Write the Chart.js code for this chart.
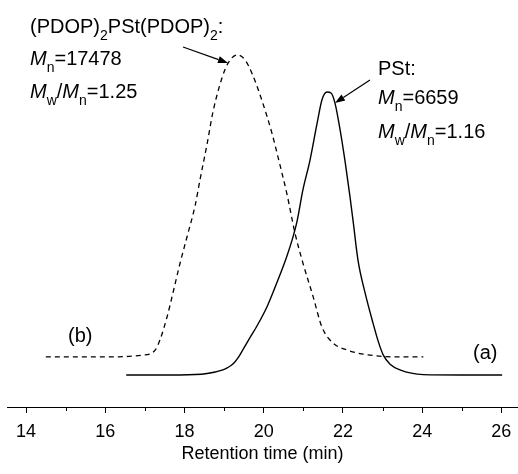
<!DOCTYPE html>
<html>
<head>
<meta charset="utf-8">
<script src="https://cdn.jsdelivr.net/npm/chart.js@4.4.0/dist/chart.umd.min.js"></script>
<style>
  html, body { margin: 0; padding: 0; background: #fff; }
  #wrap { width: 518px; height: 474px; }
</style>
</head>
<body>
<div id="wrap"><canvas id="gpc"></canvas></div>
<script>
// curve (b): (PDOP)2PSt(PDOP)2, dashed
const timeB = [14.5, 15.87, 16.95, 17.26, 17.38, 17.56, 17.71, 17.89, 18.07, 18.27, 18.39, 18.57, 18.72, 18.95, 19.1, 19.33, 19.53, 19.73, 19.96, 20.21, 20.36, 20.59, 20.79, 20.99, 21.25, 21.47, 21.75, 22.11, 22.69, 23.44, 24.03];
const signalB = [13.9, 13.9, 14.4, 15.8, 18.6, 25.0, 31.7, 40.0, 47.5, 56.0, 63.0, 73.0, 82.0, 91.5, 95.5, 97.8, 96.4, 92.0, 85.0, 76.0, 69.5, 59.0, 48.3, 40.0, 30.6, 22.2, 17.8, 15.8, 14.4, 13.9, 13.9];

// curve (a): PSt, solid
const timeA = [16.53, 17.89, 18.57, 18.97, 19.1, 19.23, 19.36, 19.48, 19.65, 19.83, 20.09, 20.36, 20.57, 20.72, 20.84, 20.99, 21.17, 21.35, 21.47, 21.6, 21.7, 21.8, 21.93, 22.06, 22.18, 22.26, 22.38, 22.56, 22.76, 22.89, 23.02, 23.19, 23.44, 24.03, 24.96, 26.02];
const signalA = [8.9, 8.9, 9.3, 10.3, 11.0, 12.0, 13.8, 16.0, 19.2, 22.5, 28.0, 35.3, 41.4, 46.5, 51.5, 60.3, 68.6, 78.9, 85.3, 87.5, 87.2, 84.4, 76.9, 67.8, 58.3, 51.4, 40.8, 31.7, 23.3, 18.3, 14.4, 11.9, 10.3, 9.0, 8.9, 8.9];

const xTicks = [14, 16, 18, 20, 22, 24, 26];
const xMinor = [15, 17, 19, 21, 23, 25];

const FONT = "'Liberation Sans', Arial, sans-serif";

// text with italic / subscript pieces
function drawRich(ctx, x, y, parts) {
  parts.forEach(([t, s]) => {
    const sub = s && s.includes('s');
    const it = s && s.includes('i');
    ctx.font = (it ? 'italic ' : '') + (sub ? '14px ' : '20px ') + FONT;
    ctx.fillText(t, x, sub ? y + 7 : y);
    x += ctx.measureText(t).width;
  });
}

function arrow(ctx, x1, y1, x2, y2) {
  const a = Math.atan2(y2 - y1, x2 - x1);
  const hl = 10, hw = 3.5;
  ctx.beginPath();
  ctx.moveTo(x1, y1);
  ctx.lineTo(x2 - hl * Math.cos(a), y2 - hl * Math.sin(a));
  ctx.lineWidth = 1.2;
  ctx.stroke();
  ctx.beginPath();
  ctx.moveTo(x2, y2);
  ctx.lineTo(x2 - hl * Math.cos(a) + hw * Math.sin(a), y2 - hl * Math.sin(a) - hw * Math.cos(a));
  ctx.lineTo(x2 - hl * Math.cos(a) - hw * Math.sin(a), y2 - hl * Math.sin(a) + hw * Math.cos(a));
  ctx.closePath();
  ctx.fill();
}

const notes = {
  id: 'notes',
  afterDraw(chart) {
    const ctx = chart.ctx;
    const xs = chart.scales.x;
    const base = chart.chartArea.bottom;
    ctx.save();
    ctx.strokeStyle = '#000';
    ctx.fillStyle = '#000';
    // minor ticks
    ctx.lineWidth = 1;
    xMinor.forEach(v => {
      const px = Math.round(xs.getPixelForValue(v)) + 0.5;
      ctx.beginPath();
      ctx.moveTo(px, base);
      ctx.lineTo(px, base + 4);
      ctx.stroke();
    });

    ctx.textBaseline = 'alphabetic';
    ctx.textAlign = 'left';
    drawRich(ctx, 30, 33, [['(PDOP)'], ['2', 's'], ['PSt(PDOP)'], ['2', 's'], [':']]);
    drawRich(ctx, 30, 65, [['M', 'i'], ['n', 's'], ['=17478']]);
    drawRich(ctx, 30, 98, [['M', 'i'], ['w', 's'], ['/'], ['M', 'i'], ['n', 's'], ['=1.25']]);

    drawRich(ctx, 378, 75, [['PSt:']]);
    drawRich(ctx, 378, 104, [['M', 'i'], ['n', 's'], ['=6659']]);
    drawRich(ctx, 378, 138, [['M', 'i'], ['w', 's'], ['/'], ['M', 'i'], ['n', 's'], ['=1.16']]);

    drawRich(ctx, 68, 342, [['(b)']]);
    drawRich(ctx, 473, 359, [['(a)']]);

    arrow(ctx, 183, 47, 228, 63);
    arrow(ctx, 370, 80, 335, 103);
    ctx.restore();
  }
};

new Chart(document.getElementById('gpc'), {
  type: 'line',
  data: {
    datasets: [
      {
        label: '(b)',
        data: timeB.map((x, i) => ({ x, y: signalB[i] })),
        borderColor: '#000',
        borderWidth: 1.3,
        borderDash: [5, 4],
        pointRadius: 0,
        cubicInterpolationMode: 'monotone',
        fill: false
      },
      {
        label: '(a)',
        data: timeA.map((x, i) => ({ x, y: signalA[i] })),
        borderColor: '#000',
        borderWidth: 1.4,
        pointRadius: 0,
        cubicInterpolationMode: 'monotone',
        fill: false
      }
    ]
  },
  options: {
    responsive: true,
    maintainAspectRatio: false,
    animation: false,
    layout: { padding: { left: 7, right: 0, top: 47, bottom: 11 } },
    plugins: { legend: { display: false }, tooltip: { enabled: false } },
    scales: {
      x: {
        type: 'linear',
        min: 13.52,
        max: 26.42,
        afterBuildTicks: s => { s.ticks = xTicks.map(v => ({ value: v })); },
        afterFit: s => { s.paddingLeft = 0; s.paddingRight = 0; },
        ticks: { color: '#000', padding: 10, maxRotation: 0, font: { family: FONT, size: 18, lineHeight: 1 } },
        grid: { drawOnChartArea: false, drawTicks: true, tickLength: 6, color: '#000', tickColor: '#000' },
        border: { display: true, color: '#000', width: 1 },
        title: {
          display: true,
          text: 'Retention time (min)',
          color: '#000',
          padding: { top: -6, bottom: 0 },
          font: { family: FONT, size: 18, lineHeight: 1 }
        }
      },
      y: { display: false, min: 0, max: 100 }
    }
  },
  plugins: [notes]
});
</script>
</body>
</html>
